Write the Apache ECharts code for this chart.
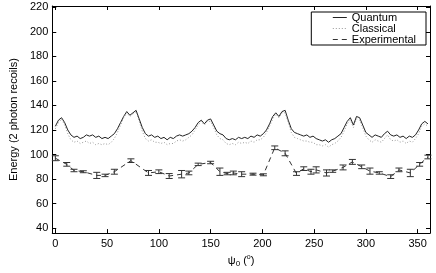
<!DOCTYPE html>
<html>
<head>
<meta charset="utf-8">
<script src="https://cdn.jsdelivr.net/npm/echarts@6/dist/echarts.min.js"></script>
<style>
html,body{margin:0;padding:0;background:#fff;}
#chart{width:436px;height:273px;}
</style>
</head>
<body>
<div id="chart"></div>
<script>
const psi = [0,3,6,9,12,15,18,21,24,27,30,33,36,39,42,45,48,51,54,57,60,63,66,69,72,75,78,81,84,87,90,93,96,99,102,105,108,111,114,117,120,123,126,129,132,135,138,141,144,147,150,153,156,159,162,165,168,171,174,177,180,183,186,189,192,195,198,201,204,207,210,213,216,219,222,225,228,231,234,237,240,243,246,249,252,255,258,261,264,267,270,273,276,279,282,285,288,291,294,297,300,303,306,309,312,315,318,321,324,327,330,333,336,339,342,345,348,351,354,357,360];
const quantum = [123,128,130,126,120,116,114,115,113,114,116,115,116,114,115,113,114,113,115,117,121,126,131,135,132,134,136,129,122,117,115,116,114,115,113,114,112,114,113,115,116,115,116,117,119,122,126,128,125,128,129,124,119,117,116,113,112,113,112,114,113,114,113,115,114,116,115,117,120,125,131,134,131,135,136,128,121,118,117,116,115,116,114,115,113,112,111,112,110,112,113,115,117,122,127,130,124,131,130,124,118,116,114,116,115,114,117,119,116,115,116,114,115,113,115,114,116,120,125,127,125];
const classical = [121,126,129,124,117,112,110,111,109,110,111,109,110,108,109,108,109,108,110,113,118,124,130,134,131,133,135,127,119,113,111,112,110,110,109,110,108,109,109,111,112,111,112,114,116,120,124,127,124,127,127,122,116,113,112,109,108,109,108,110,109,110,109,111,110,112,112,114,118,123,129,133,130,134,134,126,118,114,113,112,111,111,110,110,108,108,107,108,106,108,109,111,114,119,125,128,122,129,128,122,115,112,110,112,111,110,113,116,112,111,112,110,111,109,111,110,113,117,123,125,123];
const psiExp = [0,11,18,27,40,48,57,73,90,100,110,122,129,138,150,159,166,172,180,191,201,212,222,233,240,247,252,262,268,278,287,296,304,313,324,332,343,352,360];
const valExp = [97,92,87,86,83,83,86,95,85,86,82.5,84,85,92,93.5,86,84.5,85,84,84,83.5,105.5,101,84.5,88.5,86,87.5,85,86.5,89.5,94,90,86.5,85,82,87.5,85,92,98];
const errExp = [2,1.5,1,0.8,2.5,1,2,1.5,2,1.5,2,3,1.5,1,1,3,1,1.5,2,0.8,0.8,1.5,2,1.5,1.5,2,2.5,2.5,1,2,2,1.5,2.5,1,1.5,1.5,3,1.5,1.5];
const xTicks = [0,50,100,150,200,250,300,350];
const yTicks = [40,60,80,100,120,140,160,180,200,220];

const FONT = '"Liberation Sans", Arial, Helvetica, sans-serif';
const chart = echarts.init(document.getElementById('chart'));

const pairs = (xs, ys) => xs.map((x, i) => [x, ys[i]]);

const baseX = {
  type: 'value', min: -3, max: 362,
  axisLine: {show: true, onZero: false, lineStyle: {color: '#000', width: 1}},
  axisTick: {show: true, inside: true, length: 4, customValues: xTicks, lineStyle: {color: '#000'}},
  splitLine: {show: false}
};
const baseY = {
  type: 'value', min: 36, max: 221,
  axisLine: {show: true, onZero: false, lineStyle: {color: '#000', width: 1}},
  axisTick: {show: true, inside: true, length: 4, customValues: yTicks, lineStyle: {color: '#000'}},
  splitLine: {show: false}
};

chart.setOption({
  animation: false,
  backgroundColor: '#fff',
  textStyle: {fontFamily: FONT},
  grid: {left: 43, right: 6, top: 6, bottom: 27, containLabel: false},
  legend: {
    right: 10, top: 12, orient: 'vertical',
    data: ['Quantum', 'Classical', 'Experimental'],
    backgroundColor: '#fff', borderColor: '#000', borderWidth: 1,
    padding: [0, 10, 0, 21], itemGap: 0, itemWidth: 14, itemHeight: 11,
    itemStyle: {opacity: 0},
    lineStyle: {width: 1},
    textStyle: {fontSize: 11, color: '#000', fontFamily: FONT, lineHeight: 11}
  },
  xAxis: [
    Object.assign({}, baseX, {
      position: 'bottom',
      axisLabel: {show: true, customValues: xTicks, color: '#000', fontSize: 11, margin: 5, fontFamily: FONT},
      name: '{a|ψ}{s|0}{a| (}{p|o}{a|)}',
      nameLocation: 'middle', nameGap: 10,
      nameTextStyle: {
        rich: {
          a: {fontSize: 11, color: '#000', fontFamily: FONT},
          s: {fontSize: 8, color: '#000', fontFamily: FONT, verticalAlign: 'bottom', padding: [6, 0, 0, 0]},
          p: {fontSize: 7, color: '#000', fontFamily: FONT, verticalAlign: 'top', padding: [0, 0, 6, 0]}
        }
      }
    }),
    Object.assign({}, baseX, {position: 'top', axisLabel: {show: false}})
  ],
  yAxis: [
    Object.assign({}, baseY, {
      position: 'left',
      axisLabel: {show: true, customValues: yTicks, color: '#000', fontSize: 11, margin: 4, fontFamily: FONT},
      name: 'Energy (2 photon recoils)',
      nameLocation: 'middle', nameGap: 29,
      nameTextStyle: {fontSize: 11, color: '#000', fontFamily: FONT}
    }),
    Object.assign({}, baseY, {position: 'right', axisLabel: {show: false}})
  ],
  series: [
    {
      name: 'Quantum', type: 'line', data: pairs(psi, quantum),
      showSymbol: false, symbol: 'none',
      lineStyle: {color: '#222', width: 1}, itemStyle: {color: '#222'}
    },
    {
      name: 'Classical', type: 'line', data: pairs(psi, classical),
      showSymbol: false, symbol: 'none',
      lineStyle: {color: '#999', width: 1, type: [1, 2]}, itemStyle: {color: '#999'}
    },
    {
      name: 'Experimental', type: 'line', data: pairs(psiExp, valExp),
      showSymbol: false, symbol: 'none',
      lineStyle: {color: '#333', width: 1, type: [5, 4]}, itemStyle: {color: '#333'}
    },
    {
      name: 'errbars', type: 'custom',
      data: psiExp.map((x, i) => [x, valExp[i] - errExp[i], valExp[i] + errExp[i]]),
      renderItem: function (params, api) {
        const x = api.value(0);
        const lo = api.coord([x, api.value(1)]);
        const hi = api.coord([x, api.value(2)]);
        const w = 3.5;
        const st = {stroke: '#333', lineWidth: 1, fill: null};
        return {
          type: 'group',
          children: [
            {type: 'line', shape: {x1: lo[0], y1: lo[1], x2: hi[0], y2: hi[1]}, style: st},
            {type: 'line', shape: {x1: lo[0] - w, y1: lo[1], x2: lo[0] + w, y2: lo[1]}, style: st},
            {type: 'line', shape: {x1: hi[0] - w, y1: hi[1], x2: hi[0] + w, y2: hi[1]}, style: st}
          ]
        };
      },
      z: 3
    }
  ]
});
</script>
</body>
</html>
